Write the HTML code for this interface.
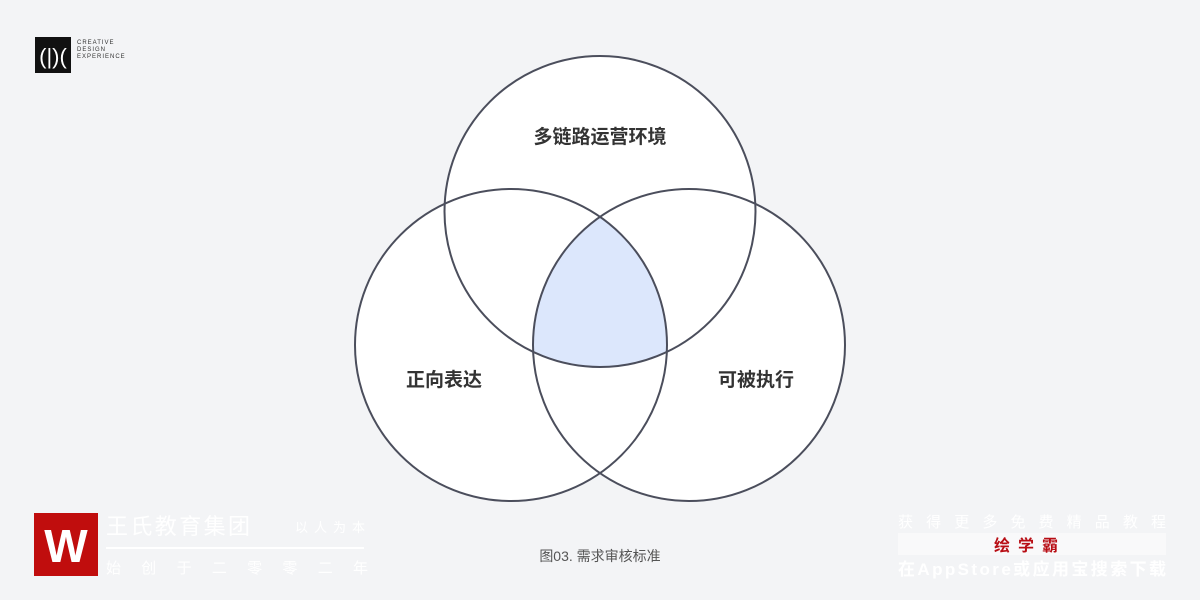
<!DOCTYPE html>
<html><head><meta charset="utf-8"><style>
body{margin:0;width:1200px;height:600px;background:#f3f4f6;overflow:hidden;font-family:"Liberation Sans","Noto Sans CJK SC",sans-serif;position:relative}
.a{position:absolute}
</style></head><body>
<svg class="a" style="left:0;top:0" width="1200" height="600">
<defs>
<clipPath id="c1"><circle cx="600" cy="211.5" r="155.5"/></clipPath>
<clipPath id="c2"><circle cx="511" cy="345" r="156"/></clipPath>
</defs>
<circle cx="600" cy="211.5" r="155.5" fill="#fff"/>
<circle cx="511" cy="345" r="156" fill="#fff"/>
<circle cx="689" cy="345" r="156" fill="#fff"/>
<g clip-path="url(#c1)"><g clip-path="url(#c2)"><circle cx="689" cy="345" r="156" fill="#dce7fc"/></g></g>
<g fill="none" stroke="#4b4e5c" stroke-width="2">
<circle cx="600" cy="211.5" r="155.5"/>
<circle cx="511" cy="345" r="156"/>
<circle cx="689" cy="345" r="156"/>
</g>
<g font-family="Liberation Sans,Noto Sans CJK SC,sans-serif" font-size="19" font-weight="bold" fill="#333" text-anchor="middle">
<text x="600" y="143">多链路运营环境</text>
<text x="444" y="386">正向表达</text>
<text x="756" y="386">可被执行</text>
</g>
<text x="600" y="561" font-size="14" fill="#555" text-anchor="middle" font-family="Liberation Sans,Noto Sans CJK SC,sans-serif">图03. 需求审核标准</text>
<rect x="35" y="37" width="36" height="36" fill="#111"/>
<text x="53" y="64" font-size="22" fill="#fff" text-anchor="middle" font-family="Liberation Sans,sans-serif">(|)(</text>
<g font-size="6" fill="#333" font-family="Liberation Sans,sans-serif" letter-spacing="1"><text x="77" y="44">CREATIVE</text><text x="77" y="51">DESIGN</text><text x="77" y="58">EXPERIENCE</text></g>
<rect x="34" y="513" width="64" height="63" fill="#c00d0d"/>
<text x="66" y="562" font-size="46" font-weight="bold" fill="#fff" text-anchor="middle" font-family="Liberation Sans,sans-serif">W</text>
<g fill="#fff" font-family="Liberation Sans,Noto Sans CJK SC,sans-serif">
<text x="106" y="534" font-size="22" textLength="144">王氏教育集团</text>
<text x="295" y="532" font-size="13" textLength="70">以人为本</text>
<rect x="106" y="547" width="258" height="2"/>
<text x="106" y="573" font-size="15" textLength="262">始创于二零零二年</text>
<text x="898" y="527" font-size="15" textLength="268">获得更多免费精品教程</text>
<rect x="898" y="533" width="268" height="22" fill="#f9f9fa"/>
<text x="898" y="575" font-size="17" font-weight="bold" textLength="268">在AppStore或应用宝搜索下载</text>
</g>
<text x="1030" y="551" font-size="16" font-weight="bold" fill="#b80d14" text-anchor="middle" letter-spacing="8" font-family="Liberation Sans,Noto Sans CJK SC,sans-serif">绘学霸</text>
</svg>
</body></html>
